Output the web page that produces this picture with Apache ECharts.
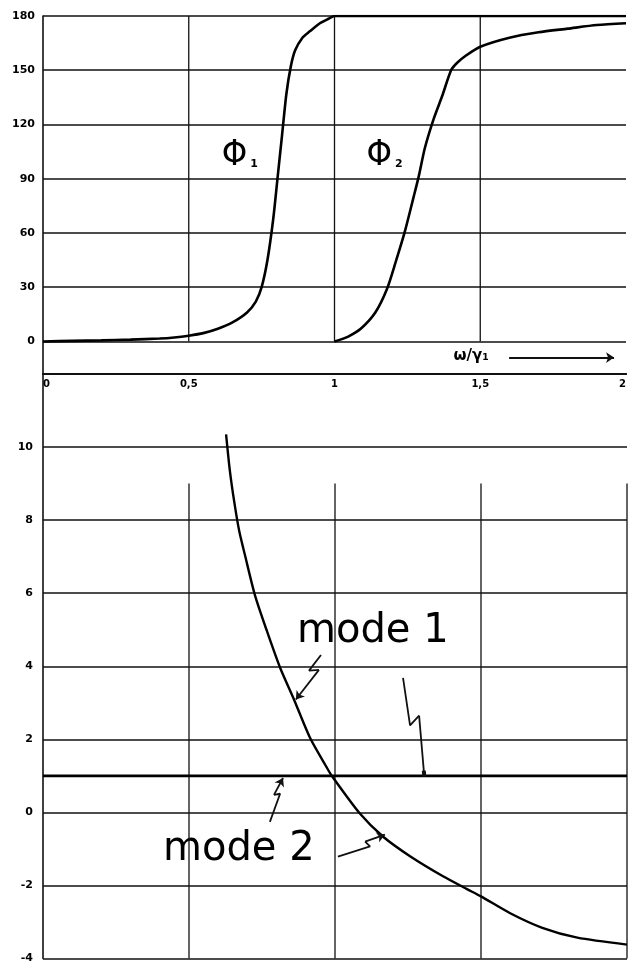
<!DOCTYPE html>
<html><head><meta charset="utf-8">
<script src="https://cdn.jsdelivr.net/npm/echarts@6/dist/echarts.min.js"></script>
<style>html,body{margin:0;padding:0;background:#fff}#c{width:629px;height:964px}</style>
</head><body><div id="c"></div>
<script>
// ---- axes ----
const xTicks = [0, 0.5, 1, 1.5, 2];
const xTickLabels = ['0', '0,5', '1', '1,5', '2'];
const phiTicks = [0, 30, 60, 90, 120, 150, 180];
const phiMin = -18, phiMax = 180;
const ampMin = -4, ampMax = 12, ampStep = 2;
const topGridX = [0.5, 1, 1.5];        // vertical grid lines, phase chart (0..180)
const botGridX = [0.5, 1, 1.5, 2];     // vertical grid lines, lower chart (-4..9)
const botGridTop = 9;

// ---- phase curves (degrees) ----
const phi1X = [0, 0.1, 0.2, 0.3, 0.4, 0.45, 0.5, 0.55, 0.6, 0.65, 0.7, 0.73, 0.75, 0.77, 0.79, 0.805, 0.82, 0.835, 0.85, 0.865, 0.89, 0.915, 0.95, 0.98, 1.0, 1.1, 1.5, 2.0];
const phi1Y = [0, 0.3, 0.6, 1, 1.6, 2.2, 3.2, 4.6, 7, 10.5, 16, 22, 30, 45, 68, 91, 114, 137, 152, 161, 168, 171.5, 176, 178.5, 180, 180, 180, 180];
const phi2X = [1.0, 1.02, 1.05, 1.09, 1.14, 1.18, 1.21, 1.24, 1.27, 1.29, 1.31, 1.34, 1.37, 1.40, 1.42, 1.45, 1.5, 1.6, 1.7, 1.8, 1.9, 2.0];
const phi2Y = [0, 1, 3, 7, 16, 29, 44, 60, 79, 92, 107, 123, 136, 150, 154, 158, 163, 168, 171, 173, 175, 176];

// ---- lower chart ----
const curveX = [0.627, 0.64, 0.655, 0.672, 0.692, 0.726, 0.767, 0.812, 0.857, 0.914, 0.971, 0.989, 1.086, 1.164, 1.257, 1.37, 1.452, 1.5, 1.6, 1.71, 1.83, 2.0];
const curveY = [10.35, 9.35, 8.5, 7.7, 7.03, 5.94, 4.96, 3.96, 3.14, 2.05, 1.24, 1.0, -0.04, -0.66, -1.2, -1.75, -2.1, -2.3, -2.76, -3.16, -3.43, -3.62];
const flatX = [0, 2];
const flatY = [1, 1];

// ---- annotation pointers (zig-zag leaders, data space of lower chart) ----
const lead1a = [[0.952, 4.31], [0.911, 3.88], [0.945, 3.90], [0.866, 3.09]];
const lead1b = [[1.233, 3.68], [1.257, 2.38], [1.288, 2.65], [1.305, 1.06]];
const lead2a = [[0.777, -0.26], [0.812, 0.51], [0.791, 0.48], [0.822, 0.94]];
const lead2b = [[1.010, -1.21], [1.120, -0.93], [1.103, -0.80], [1.171, -0.61]];

const zip = (xs, ys) => xs.map((x, i) => [x, ys[i]]);
const INK = '#111';
const axisFont = { fontFamily: 'DejaVu Sans', fontWeight: 'bold', fontSize: 11, color: '#000' };

function leader(pts, endSym) {
  const n = pts.length;
  return {
    type: 'line', xAxisIndex: 1, yAxisIndex: 1, data: pts.slice(0, n - 1),
    showSymbol: false, symbol: 'none', silent: true,
    lineStyle: { color: INK, width: 1.8 },
    markLine: {
      silent: true, symbol: ['none', endSym], symbolSize: endSym === 'arrow' ? 8 : [4, 6],
      lineStyle: { color: INK, width: 1.8, type: 'solid' }, label: { show: false },
      data: [[{ coord: pts[n - 2] }, { coord: pts[n - 1] }]]
    }
  };
}

const series = [];
// vertical grid segments
topGridX.forEach(x => series.push({ type: 'line', xAxisIndex: 0, yAxisIndex: 0, data: [[x, 0], [x, phiMax]], symbol: 'none', silent: true, lineStyle: { color: INK, width: 1.3 } }));
botGridX.forEach(x => series.push({ type: 'line', xAxisIndex: 1, yAxisIndex: 1, data: [[x, ampMin], [x, botGridTop]], symbol: 'none', silent: true, lineStyle: { color: INK, width: 1.3 } }));

const curveStyle = { type: 'line', smooth: 0.25, symbol: 'none' };
series.push({ ...curveStyle, name: 'Φ1', xAxisIndex: 0, yAxisIndex: 0, data: zip(phi1X, phi1Y), lineStyle: { color: '#000', width: 2.6 } });
series.push({ ...curveStyle, name: 'Φ2', xAxisIndex: 0, yAxisIndex: 0, data: zip(phi2X, phi2Y), lineStyle: { color: '#000', width: 2.6 } });
series.push({ ...curveStyle, name: 'curve', xAxisIndex: 1, yAxisIndex: 1, data: zip(curveX, curveY), lineStyle: { color: '#000', width: 2.4 } });
series.push({ name: 'flat', type: 'line', xAxisIndex: 1, yAxisIndex: 1, data: zip(flatX, flatY), symbol: 'none', lineStyle: { color: '#000', width: 2.6 } });

series.push(leader(lead1a, 'arrow'));
series.push(leader(lead1b, 'rect'));
series.push(leader(lead2a, 'arrow'));
series.push(leader(lead2b, 'arrow'));

// text labels
const textSeries = { type: 'scatter', symbolSize: 0, silent: true, itemStyle: { opacity: 1, color: '#000' } };
const phiRich = {
  a: { fontFamily: 'DejaVu Sans Condensed', fontWeight: 'normal', fontSize: 36, color: '#000' },
  b: { fontFamily: 'DejaVu Sans', fontWeight: 'bold', fontSize: 11, color: '#000', verticalAlign: 'bottom', padding: [0, 0, 4, 3] }
};
series.push({
  ...textSeries, xAxisIndex: 0, yAxisIndex: 0,
  data: [{ value: [0.613, 103], name: '{a|Φ}{b|1}' }, { value: [1.11, 103], name: '{a|Φ}{b|2}' }],
  label: { show: true, position: 'right', distance: 0, formatter: p => p.name, rich: phiRich }
});
series.push({
  ...textSeries, xAxisIndex: 0, yAxisIndex: 0,
  data: [{ value: [1.469, -8.3], name: 'ω/γ₁' }],
  label: { show: true, position: 'inside', formatter: p => p.name, fontFamily: 'DejaVu Sans', fontWeight: 'bold', fontSize: 15, color: '#000' }
});
series.push({
  type: 'line', xAxisIndex: 0, yAxisIndex: 0, data: [], silent: true,
  markLine: { silent: true, symbol: ['none', 'arrow'], symbolSize: 8, label: { show: false },
    lineStyle: { color: INK, width: 1.8, type: 'solid' },
    data: [[{ coord: [1.599, -8.9] }, { coord: [1.959, -8.9] }]] }
});
series.push({
  ...textSeries, xAxisIndex: 1, yAxisIndex: 1,
  data: [{ value: [0.87, 4.96], name: 'mode 1' }, { value: [0.411, -1.02], name: 'mode 2' }],
  label: { show: true, position: 'right', distance: 0, formatter: p => p.name, fontFamily: 'DejaVu Sans', fontWeight: 'normal', fontSize: 40, color: '#000' }
});

const option = {
  animation: false,
  backgroundColor: '#fff',
  grid: [
    { left: 43, right: 2, top: 16, height: 358, containLabel: false },
    { left: 43, right: 2, top: 374, bottom: 1, containLabel: false }
  ],
  xAxis: [
    { type: 'value', gridIndex: 0, min: 0, max: 2, interval: 0.5,
      axisLine: { show: true, onZero: false, lineStyle: { color: INK, width: 2.2 } },
      axisTick: { show: false }, splitLine: { show: false },
      axisLabel: { ...axisFont, fontSize: 10, margin: 5, alignMinLabel: 'left', alignMaxLabel: 'right',
        formatter: v => { const i = xTicks.indexOf(v); return i >= 0 ? xTickLabels[i] : ''; } } },
    { type: 'value', gridIndex: 1, min: 0, max: 2, interval: 0.5, show: false,
      axisLine: { show: false }, splitLine: { show: false } }
  ],
  yAxis: [
    { type: 'value', gridIndex: 0, min: phiMin, max: phiMax,
      axisLine: { show: true, onZero: false, lineStyle: { color: INK, width: 1.6 } },
      axisTick: { show: false, customValues: phiTicks },
      axisLabel: { ...axisFont, margin: 8, customValues: phiTicks },
      splitLine: { show: true, lineStyle: { color: INK, width: 1.5 } } },
    { type: 'value', gridIndex: 1, min: ampMin, max: ampMax, interval: ampStep,
      axisLine: { show: true, onZero: false, lineStyle: { color: INK, width: 1.6 } },
      axisTick: { show: false },
      axisLabel: { ...axisFont, margin: 10, formatter: v => v === ampMax ? '' : String(v) },
      splitLine: { show: true, lineStyle: { color: INK, width: 1.5 } } }
  ],
  series
};
echarts.init(document.getElementById('c'), null, { renderer: 'canvas' }).setOption(option);
</script></body></html>
